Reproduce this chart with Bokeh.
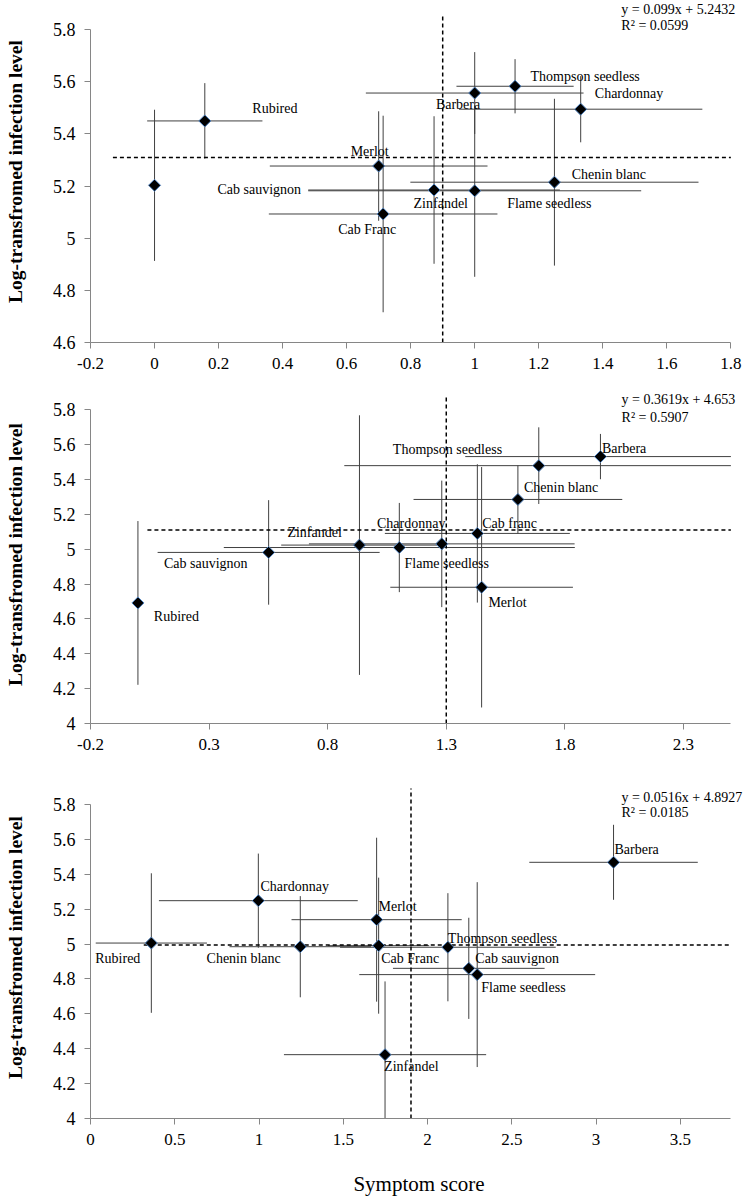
import math
from bokeh.plotting import figure
from bokeh.models import Range1d, FixedTicker, Label, PrintfTickFormatter
from bokeh.layouts import column
from bokeh.embed import file_html
from bokeh.resources import INLINE
from bokeh.core.properties import value

FONT = "Liberation Serif"

# ---------------- Panel 1 data ----------------
p1_names = ["Cab sauvignon", "Rubired", "Merlot", "Cab Franc", "Zinfandel", "Flame seedless",
            "Barbera", "Thompson seedless", "Chardonnay", "Chenin blanc"]
p1_x = [0.0, 0.157, 0.70, 0.714, 0.873, 1.0, 1.0, 1.126, 1.331, 1.249]
p1_y = [5.203, 5.45, 5.277, 5.093, 5.185, 5.182, 5.557, 5.583, 5.495, 5.215]
p1_xerr = [0.0, 0.18, 0.34, 0.357, 0.393, 0.52, 0.34, 0.183, 0.38, 0.45]
p1_yerr = [0.29, 0.145, 0.21, 0.377, 0.283, 0.33, 0.157, 0.104, 0.127, 0.32]
p1_mean_x = 0.90
p1_mean_y = 5.31
p1_eq = ["y = 0.099x + 5.2432", "R² = 0.0599"]
p1_xticks = [-0.2, 0, 0.2, 0.4, 0.6, 0.8, 1, 1.2, 1.4, 1.6, 1.8]
p1_yticks = [4.6, 4.8, 5, 5.2, 5.4, 5.6, 5.8]

# ---------------- Panel 2 data ----------------
p2_names = ["Rubired", "Cab sauvignon", "Zinfandel", "Chardonnay", "Flame seedless", "Cab franc",
            "Merlot", "Chenin blanc", "Thompson seedless", "Barbera"]
p2_x = [0.0, 0.551, 0.934, 1.102, 1.281, 1.431, 1.449, 1.602, 1.69, 1.95]
p2_y = [4.692, 4.982, 5.024, 5.01, 5.031, 5.091, 4.782, 5.286, 5.48, 5.532]
p2_xerr = [0.0, 0.468, 0.33, 0.74, 0.56, 0.39, 0.385, 0.44, 0.82, 0.57]
p2_yerr = [0.47, 0.30, 0.745, 0.256, 0.363, 0.397, 0.69, 0.195, 0.22, 0.13]
p2_mean_x = 1.30
p2_mean_y = 5.11
p2_eq = ["y = 0.3619x + 4.653", "R² = 0.5907"]
p2_xticks = [-0.2, 0.3, 0.8, 1.3, 1.8, 2.3]
p2_yticks = [4, 4.2, 4.4, 4.6, 4.8, 5, 5.2, 5.4, 5.6, 5.8]

# ---------------- Panel 3 data ----------------
p3_names = ["Rubired", "Chardonnay", "Chenin blanc", "Merlot", "Cab Franc", "Thompson seedless",
            "Cab sauvignon", "Flame seedless", "Zinfandel", "Barbera"]
p3_x = [0.361, 0.996, 1.245, 1.698, 1.71, 2.121, 2.245, 2.295, 1.748, 3.104]
p3_y = [5.006, 5.249, 4.985, 5.14, 4.991, 4.982, 4.861, 4.825, 4.366, 5.469]
p3_xerr = [0.33, 0.59, 0.42, 0.505, 0.3, 0.64, 0.45, 0.70, 0.6, 0.50]
p3_yerr = [0.40, 0.27, 0.29, 0.47, 0.39, 0.31, 0.29, 0.53, 0.42, 0.215]
p3_mean_x = 1.902
p3_mean_y = 4.995
p3_eq = ["y = 0.0516x + 4.8927", "R² = 0.0185"]
p3_xticks = [0, 0.5, 1, 1.5, 2, 2.5, 3, 3.5]
p3_yticks = [4, 4.2, 4.4, 4.6, 4.8, 5, 5.2, 5.4, 5.6, 5.8]

# ---------------- label anchor positions (layout) ----------------
p1_lab_x = [0.327, 0.376, 0.672, 0.664, 0.894, 1.233, 0.948, 1.345, 1.482, 1.419]
p1_lab_y = [5.186, 5.497, 5.334, 5.033, 5.134, 5.134, 5.514, 5.621, 5.555, 5.245]
p2_lab_x = [0.162, 0.286, 0.745, 1.152, 1.302, 1.567, 1.558, 1.784, 1.305, 2.05]
p2_lab_y = [4.615, 4.92, 5.098, 5.148, 4.92, 5.15, 4.696, 5.355, 5.57, 5.576]
p3_lab_x = [0.162, 1.212, 0.909, 1.822, 1.897, 2.445, 2.532, 2.569, 1.904, 3.241]
p3_lab_y = [4.918, 5.33, 4.918, 5.217, 4.918, 5.033, 4.918, 4.752, 4.298, 5.542]

AXIS_COLOR = "#868686"
BAR_COLOR = "#404040"


def make_panel(names, xs, ys, xerr, yerr, lab_x, lab_y, mean_x, mean_y, hstart,
               xaxis_rng, yaxis_rng, view_x_end, view_y_end, vtop,
               xticks, yticks, eq, eq_x, eq_y, height, bottom, xlabel=None):
    xmin, xmax = xaxis_rng
    ymin, ymax = yaxis_rng
    p = figure(width=747, height=height, output_backend="svg", toolbar_location=None,
               x_range=Range1d(xmin, view_x_end), y_range=Range1d(ymin, view_y_end),
               min_border_left=90, min_border_right=0, min_border_top=0,
               min_border_bottom=bottom)
    p.background_fill_color = "white"
    p.border_fill_color = "white"
    p.outline_line_color = None
    p.xgrid.visible = False
    p.ygrid.visible = False

    for axes, ticks, bnds, fsize in ((p.xaxis, xticks, xaxis_rng, "17px"),
                                     (p.yaxis, yticks, yaxis_rng, "18px")):
        for ax in axes:
            ax.ticker = FixedTicker(ticks=ticks)
            ax.formatter = PrintfTickFormatter(format="%g")
            ax.bounds = bnds
            ax.minor_tick_line_color = None
            ax.axis_line_color = AXIS_COLOR
            ax.major_tick_line_color = AXIS_COLOR
            ax.major_tick_out = 6
            ax.major_tick_in = 0
            ax.major_label_text_font = FONT
            ax.major_label_text_font_size = fsize
            ax.major_label_text_color = "#000000"
            ax.major_label_standoff = 9
    yax = p.yaxis[0]
    yax.axis_label = "Log-transfromed infection level"
    yax.axis_label_text_font = FONT
    yax.axis_label_text_font_style = "bold"
    yax.axis_label_text_font_size = "19.5px"
    yax.axis_label_standoff = 24
    yax.axis_label_text_color = "#000000"
    if xlabel:
        xax = p.xaxis[0]
        xax.axis_label = xlabel
        xax.axis_label_text_font = FONT
        xax.axis_label_text_font_style = "normal"
        xax.axis_label_text_font_size = "21px"
        xax.axis_label_standoff = 24
        xax.axis_label_text_color = "#000000"

    # error bars (clipped to the axis extent like the original)
    p.segment(x0=[max(x - e, xmin) for x, e in zip(xs, xerr)], y0=ys,
              x1=[min(x + e, xmax) for x, e in zip(xs, xerr)], y1=ys,
              line_color=BAR_COLOR, line_width=1)
    p.segment(x0=xs, y0=[max(y - e, ymin) for y, e in zip(ys, yerr)],
              x1=xs, y1=[min(y + e, ymax) for y, e in zip(ys, yerr)],
              line_color=BAR_COLOR, line_width=1)

    # mean lines
    p.segment(x0=[hstart], y0=[mean_y], x1=[xmax], y1=[mean_y],
              line_color="black", line_width=1.5, line_dash="4 3")
    p.segment(x0=[mean_x], y0=[ymin], x1=[mean_x], y1=[vtop],
              line_color="black", line_width=1.5, line_dash="4 3")

    # markers
    p.scatter(x=xs, y=ys, marker="square", angle=math.pi / 4, size=8.5,
              fill_color="#000000", line_color="#4f81bd", line_width=1)

    # data labels
    p.text(x=lab_x, y=lab_y, text=names, text_font=value(FONT), text_font_size="14px",
           text_align="center", text_baseline="middle", text_color="#000000")

    # regression equation
    for txt, yy in zip(eq, eq_y):
        p.add_layout(Label(x=eq_x, y=yy, text=txt, text_font=FONT, text_font_size="14px",
                           text_baseline="middle", text_align="left", text_color="#000000"))
    return p


p1 = make_panel(p1_names, p1_x, p1_y, p1_xerr, p1_yerr, p1_lab_x, p1_lab_y,
                p1_mean_x, p1_mean_y, -0.13, (-0.2, 1.8), (4.6, 5.8), 1.852, 5.912, 5.856,
                p1_xticks, p1_yticks, p1_eq, 1.458, [5.877, 5.816], 385, 43)
p2 = make_panel(p2_names, p2_x, p2_y, p2_xerr, p2_yerr, p2_lab_x, p2_lab_y,
                p2_mean_x, p2_mean_y, 0.04, (-0.2, 2.5), (4.0, 5.8), 2.570, 5.94, 5.882,
                p2_xticks, p2_yticks, p2_eq, 2.039, [5.858, 5.757], 391, 53)
p3 = make_panel(p3_names, p3_x, p3_y, p3_xerr, p3_yerr, p3_lab_x, p3_lab_y,
                p3_mean_x, p3_mean_y, 0.316, (0.0, 3.8), (4.0, 5.8), 3.899, 5.961, 5.892,
                p3_xticks, p3_yticks, p3_eq, 3.151, [5.84, 5.756], 428, 86,
                xlabel="Symptom score")

layout = column(p1, p2, p3, spacing=0)
open("out.html", "w").write(file_html(layout, INLINE))
